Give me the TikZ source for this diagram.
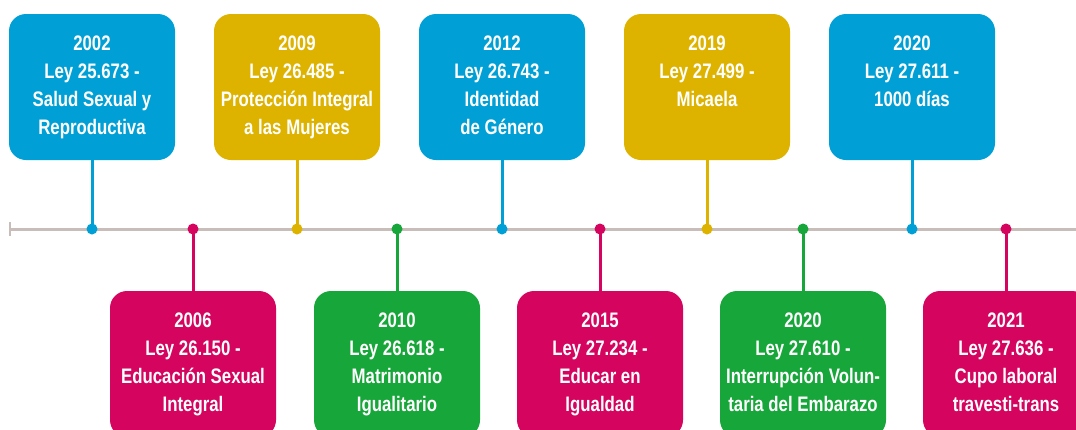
\documentclass[tikz,border=0pt]{standalone}
\usepackage{fontspec}
\setmainfont{Liberation Sans}[FakeStretch=0.8]
\definecolor{cblue}{HTML}{00A0D6}
\definecolor{cyellow}{HTML}{DDB300}
\definecolor{cmag}{HTML}{D5045F}
\definecolor{cgreen}{HTML}{17A63A}
\definecolor{caxis}{HTML}{C8BDB8}
\newcommand{\boxlines}[4]{\strut #1\\#2\\#3\\#4\strut}
\begin{document}
\begin{tikzpicture}[x=1pt,y=-1pt,
  box/.style={rounded corners=17pt, minimum width=166pt, minimum height=146pt, inner sep=0pt,
    text=white, font=\bfseries\fontsize{21}{27.7}\selectfont, align=center},
  dot/.style={circle, inner sep=0pt, minimum size=11pt},
  stem/.style={line width=3pt},
  axisline/.style={caxis, line width=3pt}]
\useasboundingbox (0,0) rectangle (1076,429);
\clip (0,0) rectangle (1076,429);
\coordinate (ls) at (10,229);
\coordinate (le) at (1080,229);
\draw[axisline] (ls) -- (le);
\draw[caxis, line width=2pt] ([yshift=7pt]ls) -- ([yshift=-7pt]ls);
% top boxes
\node[box, fill=cblue] (b2002) at (92,87) {\boxlines{2002}{Ley 25.673 -}{Salud Sexual y}{Reproductiva}};
\node[box, fill=cyellow] (b2009) at (297,87) {\boxlines{2009}{Ley 26.485 -}{Protección Integral}{a las Mujeres}};
\node[box, fill=cblue] (b2012) at (502,87) {\boxlines{2012}{Ley 26.743 -}{Identidad}{de Género}};
\node[box, fill=cyellow] (b2019) at (707,87) {\boxlines{2019}{Ley 27.499 -}{Micaela}{}};
\node[box, fill=cblue] (b2020a) at (912,87) {\boxlines{2020}{Ley 27.611 -}{1000 días}{}};
% bottom boxes
\node[box, fill=cmag] (b2006) at (193,364) {\boxlines{2006}{Ley 26.150 -}{Educación Sexual}{Integral}};
\node[box, fill=cgreen] (b2010) at (397,364) {\boxlines{2010}{Ley 26.618 -}{Matrimonio}{Igualitario}};
\node[box, fill=cmag] (b2015) at (600,364) {\boxlines{2015}{Ley 27.234 -}{Educar en}{Igualdad}};
\node[box, fill=cgreen] (b2020b) at (803,364) {\boxlines{2020}{Ley 27.610 -}{Interrupción Volun-}{taria del Embarazo}};
\node[box, fill=cmag] (b2021) at (1006,364) {\boxlines{2021}{Ley 27.636 -}{Cupo laboral}{travesti-trans}};
% dots
\node[dot, fill=cblue] (d2002) at (92,229) {};
\node[dot, fill=cmag] (d2006) at (193,229) {};
\node[dot, fill=cyellow] (d2009) at (297,229) {};
\node[dot, fill=cgreen] (d2010) at (397,229) {};
\node[dot, fill=cblue] (d2012) at (502,229) {};
\node[dot, fill=cmag] (d2015) at (600,229) {};
\node[dot, fill=cyellow] (d2019) at (707,229) {};
\node[dot, fill=cgreen] (d2020b) at (803,229) {};
\node[dot, fill=cblue] (d2020a) at (912,229) {};
\node[dot, fill=cmag] (d2021) at (1006,229) {};
% stems
\draw[stem, cblue] (b2002.south) -- (d2002.center);
\draw[stem, cyellow] (b2009.south) -- (d2009.center);
\draw[stem, cblue] (b2012.south) -- (d2012.center);
\draw[stem, cyellow] (b2019.south) -- (d2019.center);
\draw[stem, cblue] (b2020a.south) -- (d2020a.center);
\draw[stem, cmag] (d2006.center) -- (b2006.north);
\draw[stem, cgreen] (d2010.center) -- (b2010.north);
\draw[stem, cmag] (d2015.center) -- (b2015.north);
\draw[stem, cgreen] (d2020b.center) -- (b2020b.north);
\draw[stem, cmag] (d2021.center) -- (b2021.north);
\end{tikzpicture}
\end{document}
